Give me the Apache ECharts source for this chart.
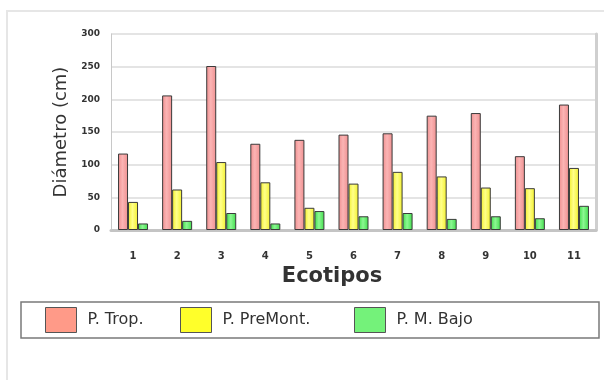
<!DOCTYPE html>
<html>
<head>
<meta charset="utf-8">
<script src="https://cdn.jsdelivr.net/npm/echarts@6/dist/echarts.min.js"></script>
<style>
  html, body { margin: 0; padding: 0; background: #fff; }
  #chart { width: 604px; height: 380px; }
</style>
</head>
<body>
<div id="chart"></div>
<script>
// Ecotipos 1..11
const categories = ['1', '2', '3', '4', '5', '6', '7', '8', '9', '10', '11'];

// Diámetro (cm) por piso altitudinal
const tropValues     = [117, 206, 251, 132, 138, 146, 148, 175, 179, 113, 192];
const premontValues  = [43, 62, 104, 73, 34, 71, 89, 82, 65, 64, 95];
const mBajoValues    = [10, 14, 26, 10, 29, 21, 26, 17, 21, 18, 37];

const yTicks = { min: 0, max: 300, interval: 50 };

const seriesNames = ['P. Trop.', 'P. PreMont.', 'P. M. Bajo'];

const FONT = '"DejaVu Sans", "Noto Sans", sans-serif';

function barGradient(edge, mid) {
  return new echarts.graphic.LinearGradient(0, 0, 1, 0, [
    { offset: 0, color: edge },
    { offset: 0.45, color: mid },
    { offset: 1, color: edge }
  ]);
}

const barStyles = [
  { fill: barGradient('#ef8f8f', '#fbb4b4'), swatch: '#ff9a88' },
  { fill: barGradient('#f2f02a', '#ffff8a'), swatch: '#ffff2a' },
  { fill: barGradient('#3fdc4a', '#8cf792'), swatch: '#74f27a' }
];

const seriesValues = [tropValues, premontValues, mBajoValues];

const chart = echarts.init(document.getElementById('chart'), null, { renderer: 'canvas' });

const series = seriesValues.map((vals, i) => ({
  name: seriesNames[i],
  type: 'bar',
  data: vals,
  barWidth: 10,
  barGap: '0%',
  xAxisIndex: 0,
  yAxisIndex: 0,
  itemStyle: {
    color: barStyles[i].fill,
    borderColor: '#3a3a3a',
    borderWidth: 1
  },
  emphasis: { disabled: true }
}));

const legendLefts = [45, 180, 354];
const legends = seriesNames.map((name, i) => ({
  data: [{ name: name, itemStyle: { color: barStyles[i].swatch, borderColor: '#555', borderWidth: 1 } }],
  left: legendLefts[i],
  top: 307,
  icon: 'rect',
  itemWidth: 31,
  itemHeight: 25,
  itemGap: 0,
  padding: 0,
  selectedMode: false,
  textStyle: { fontFamily: FONT, fontSize: 16, color: '#333', padding: [0, 0, 0, 6] }
}));

chart.setOption({
  animation: false,
  backgroundColor: '#fff',
  grid: { left: 111, right: 8, top: 34, bottom: 150, containLabel: false },
  legend: legends,
  xAxis: [
    {
      type: 'category',
      data: categories,
      position: 'bottom',
      axisLine: { lineStyle: { color: '#9a9a9a', width: 1 } },
      axisTick: { show: false },
      axisLabel: { margin: 21, fontSize: 10, fontFamily: FONT, color: '#333', fontWeight: 'bold' }
    },
    {
      type: 'category',
      data: categories,
      position: 'top',
      axisLine: { lineStyle: { color: '#c4c4c4', width: 3 } },
      axisTick: { show: false },
      axisLabel: { show: false }
    }
  ],
  yAxis: [
    {
      type: 'value',
      min: yTicks.min,
      max: yTicks.max,
      interval: yTicks.interval,
      name: 'Diámetro (cm)',
      nameLocation: 'middle',
      nameRotate: 90,
      nameGap: 40,
      nameTextStyle: { fontFamily: FONT, fontSize: 18, color: '#333' },
      axisLine: { show: true, lineStyle: { color: '#c8c8c8', width: 1 } },
      axisTick: { show: false },
      axisLabel: { margin: 11, fontSize: 9, fontFamily: FONT, color: '#333', fontWeight: 'bold' },
      splitLine: { lineStyle: { color: '#e4e4e4', width: 2 } }
    },
    {
      type: 'value',
      min: yTicks.min,
      max: yTicks.max,
      interval: yTicks.interval,
      position: 'right',
      axisLine: { show: true, lineStyle: { color: '#cfcfcf', width: 3 } },
      axisTick: { show: false },
      axisLabel: { show: false },
      splitLine: { show: false }
    }
  ],
  series: series,
  graphic: [
    {
      type: 'rect',
      shape: { x: 7, y: 11, width: 640, height: 420 },
      style: { fill: 'none', stroke: '#e6e6e6', lineWidth: 2 },
      silent: true,
      z: -10
    },
    {
      type: 'rect',
      shape: { x: 21, y: 302, width: 578, height: 36 },
      style: { fill: 'none', stroke: '#7a7a7a', lineWidth: 1.5 },
      silent: true
    },
    {
      type: 'text',
      x: 332,
      y: 277,
      style: {
        text: 'Ecotipos',
        fontFamily: FONT,
        fontSize: 21,
        fontWeight: 'bold',
        fill: '#333',
        align: 'center',
        verticalAlign: 'middle'
      },
      silent: true
    }
  ]
});
</script>
</body>
</html>
